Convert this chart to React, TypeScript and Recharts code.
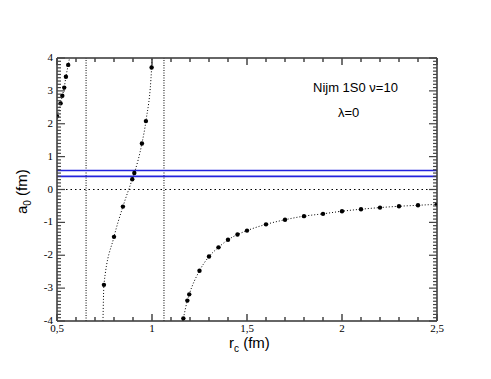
import React from 'react';
import {
  ComposedChart,
  Line,
  XAxis,
  YAxis,
  ReferenceLine,
} from 'recharts';

// branch left of the first pole
const branch1X = [0.5, 0.519, 0.528, 0.538, 0.547, 0.559, 0.566];
const branch1Y = [2.23, 2.62, 2.85, 3.1, 3.43, 3.79, 4];
const branch1Dot = [1, 1, 1, 1, 1, 1, 0];

// branch between the two poles
const branch2X = [0.742, 0.747, 0.8, 0.847, 0.896, 0.907, 0.947, 0.968, 0.998, 1.0];
const branch2Y = [-4, -2.9, -1.44, -0.52, 0.31, 0.5, 1.4, 2.08, 3.71, 4];
const branch2Dot = [0, 1, 1, 1, 1, 1, 1, 1, 1, 0];

// branch right of the second pole
const branch3X = [
  1.162, 1.165, 1.186, 1.196, 1.25, 1.3, 1.35, 1.4, 1.45, 1.5, 1.6, 1.7, 1.8,
  1.9, 2.0, 2.1, 2.2, 2.3, 2.4, 2.5,
];
const branch3Y = [
  -4, -3.92, -3.38, -3.19, -2.47, -2.04, -1.76, -1.53, -1.37, -1.25, -1.06,
  -0.92, -0.81, -0.74, -0.66, -0.6, -0.55, -0.51, -0.48, -0.45,
];
const branch3Dot = [0, 1, 1, 1, 1, 1, 1, 1, 1, 1, 1, 1, 1, 1, 1, 1, 1, 1, 1, 1];

const poles = [0.653, 1.063];
const bands = [0.58, 0.4];

const xMajorLabels = ['0,5', '1', '1,5', '2', '2,5'];
const yMajorLabels = ['-4', '-3', '-2', '-1', '0', '1', '2', '3', '4'];

const build = (xs: number[], ys: number[], dots: number[]) =>
  xs.map((x, i) => ({ x, y: ys[i], m: dots[i] }));

const b1 = build(branch1X, branch1Y, branch1Dot);
const b2 = build(branch2X, branch2Y, branch2Dot);
const b3 = build(branch3X, branch3Y, branch3Dot);

const xTicks: number[] = [];
for (let i = 0; i <= 20; i++) xTicks.push(+(0.5 + i * 0.1).toFixed(2));
const yTicks: number[] = [];
for (let i = 0; i <= 80; i++) yTicks.push(+(-4 + i * 0.1).toFixed(2));

const W = 491;
const H = 379;
const LEFT = 57;
const RIGHT = 437;
const TOP = 58;
const BOTTOM = 321;

const serif = '"Liberation Serif", "DejaVu Serif", serif';
const sans = '"Liberation Sans", Arial, sans-serif';

const isXMajor = (v: number) => Math.abs(v * 2 - Math.round(v * 2)) < 1e-6;
const isYMajor = (v: number) => Math.abs(v - Math.round(v)) < 1e-6;

function XTick(props: any) {
  const { x, y, payload, side } = props;
  const v = payload.value;
  const major = isXMajor(v);
  const len = major ? 7 : 4;
  const dir = side === 'bottom' ? -1 : 1;
  const idx = Math.round((v - 0.5) * 2);
  return (
    <g>
      <path d={`M${x},${y}V${y + dir * len}`} stroke="#444" strokeWidth={1.5} />
      {side === 'bottom' && major && (
        <text x={x} y={y + 11} textAnchor="middle" fontFamily={serif} fontSize={11} fill="#000">
          {xMajorLabels[idx]}
        </text>
      )}
    </g>
  );
}

function YTick(props: any) {
  const { x, y, payload, side } = props;
  const v = payload.value;
  const major = isYMajor(v);
  const len = major ? 8 : 4;
  const dir = side === 'left' ? 1 : -1;
  const idx = Math.round(v + 4);
  return (
    <g>
      <path d={`M${x},${y}H${x + dir * len}`} stroke="#444" strokeWidth={1.2} />
      {side === 'left' && major && (
        <text x={x - 4} y={y + 3} textAnchor="end" fontFamily={serif} fontSize={11} fill="#000">
          {yMajorLabels[idx]}
        </text>
      )}
    </g>
  );
}

const renderDot = (p: any) =>
  p.payload.m ? (
    <circle key={p.index} cx={p.cx} cy={p.cy} r={2.2} fill="#000" />
  ) : (
    <g key={p.index} />
  );

export default function App() {
  const curves = [b1, b2, b3];
  return (
    <div style={{ position: 'absolute', left: 0, top: 0, width: W, height: H, background: '#fff' }}>
      <ComposedChart width={W} height={H} margin={{ top: 0, right: 0, bottom: 0, left: 0 }}>
        <XAxis
          xAxisId="b"
          type="number"
          dataKey="x"
          domain={[0.5, 2.5]}
          ticks={xTicks}
          interval={0}
          allowDataOverflow
          orientation="bottom"
          height={H - BOTTOM}
          tickSize={0}
          tickMargin={0}
          tickLine={false}
          axisLine={{ stroke: '#333', strokeWidth: 1.5 }}
          tick={(p: any) => <XTick {...p} side="bottom" />}
        />
        <XAxis
          xAxisId="t"
          type="number"
          dataKey="x"
          domain={[0.5, 2.5]}
          ticks={xTicks}
          interval={0}
          allowDataOverflow
          orientation="top"
          height={TOP}
          tickSize={0}
          tickMargin={0}
          tickLine={false}
          axisLine={{ stroke: '#333', strokeWidth: 1.5 }}
          tick={(p: any) => <XTick {...p} side="top" />}
        />
        <YAxis
          yAxisId="l"
          type="number"
          domain={[-4, 4]}
          ticks={yTicks}
          interval={0}
          allowDataOverflow
          orientation="left"
          width={LEFT}
          tickSize={0}
          tickMargin={0}
          tickLine={false}
          axisLine={{ stroke: '#333', strokeWidth: 1.5 }}
          tick={(p: any) => <YTick {...p} side="left" />}
        />
        <YAxis
          yAxisId="r"
          type="number"
          domain={[-4, 4]}
          ticks={yTicks}
          interval={0}
          allowDataOverflow
          orientation="right"
          width={W - RIGHT}
          tickSize={0}
          tickMargin={0}
          tickLine={false}
          axisLine={{ stroke: '#333', strokeWidth: 1.5 }}
          tick={(p: any) => <YTick {...p} side="right" />}
        />
        {poles.map((p) => (
          <ReferenceLine key={p} x={p} xAxisId="b" yAxisId="l" stroke="#000" strokeDasharray="1 1.5" />
        ))}
        <ReferenceLine y={0} xAxisId="b" yAxisId="l" stroke="#000" strokeDasharray="1.5 3" strokeWidth={1.2} />
        {bands.map((b) => (
          <ReferenceLine key={b} y={b} xAxisId="b" yAxisId="l" stroke="#2323dd" strokeWidth={1.6} />
        ))}
        {curves.map((d, i) => (
          <Line
            key={i}
            data={d}
            dataKey="y"
            xAxisId="b"
            yAxisId="l"
            type="monotone"
            stroke="#000"
            strokeWidth={1}
            strokeDasharray="1 2"
            dot={renderDot}
            activeDot={false}
            isAnimationActive={false}
          />
        ))}
      </ComposedChart>
      <svg
        width={W}
        height={H}
        style={{ position: 'absolute', left: 0, top: 0, pointerEvents: 'none' }}
      >
        <text x={229} y={348} fontFamily={sans} fontSize={15} fill="#000">
          r<tspan fontSize={10} dy={4}>c</tspan>
          <tspan dy={-4}> (fm)</tspan>
        </text>
        <text
          x={0}
          y={0}
          transform="translate(27,214) rotate(-90)"
          fontFamily={sans}
          fontSize={15}
          fill="#000"
        >
          a<tspan fontSize={10} dy={4}>0</tspan>
          <tspan dy={-4}> (fm)</tspan>
        </text>
        <text x={313} y={92} fontFamily={sans} fontSize={13} fill="#000">
          Nijm 1S0 ν=10
        </text>
        <text x={338} y={117} fontFamily={sans} fontSize={13} fill="#000">
          λ=0
        </text>
      </svg>
    </div>
  );
}
